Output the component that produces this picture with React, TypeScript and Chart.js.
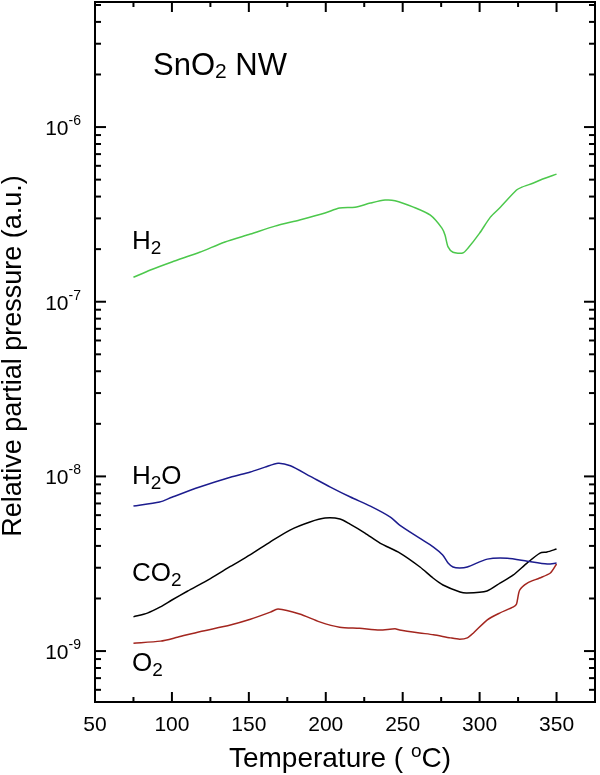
import React, { useEffect, useRef } from "react";
import { Chart, registerables } from "chart.js";

Chart.register(...registerables);

const FONT = '"Liberation Sans", Arial, Helvetica, sans-serif';

// ---- data ----
const h2Temp = [75, 86, 100, 118, 134.5, 151, 167, 183, 199.5, 209, 219, 229, 238.5, 245, 257, 268, 275.5, 277.5, 279.5, 282.7, 289, 292.5, 300, 307, 313, 324, 327.5, 335, 341, 350];
const h2Val = [1.38e-7, 1.52e-7, 1.69e-7, 1.92e-7, 2.2e-7, 2.44e-7, 2.71e-7, 2.94e-7, 3.22e-7, 3.44e-7, 3.48e-7, 3.67e-7, 3.82e-7, 3.79e-7, 3.48e-7, 3.13e-7, 2.64e-7, 2.41e-7, 2.06e-7, 1.92e-7, 1.9e-7, 2.03e-7, 2.47e-7, 3.05e-7, 3.44e-7, 4.36e-7, 4.53e-7, 4.78e-7, 5.04e-7, 5.38e-7];

const h2oTemp = [75, 92, 100, 118, 138, 151, 160.5, 169, 177, 190, 203, 216, 229, 242, 248, 261, 270, 276, 279.5, 282.7, 287, 292, 305, 318, 331, 344, 350];
const h2oVal = [6.76e-9, 7.13e-9, 7.6e-9, 8.7e-9, 9.9e-9, 1.06e-8, 1.13e-8, 1.19e-8, 1.15e-8, 1.0e-8, 8.69e-9, 7.62e-9, 6.76e-9, 5.85e-9, 5.26e-9, 4.43e-9, 3.94e-9, 3.55e-9, 3.19e-9, 3.03e-9, 2.99e-9, 3.03e-9, 3.36e-9, 3.4e-9, 3.27e-9, 3.15e-9, 3.19e-9];

const co2Temp = [75, 84, 92.5, 100, 110, 125, 138, 150.75, 163.75, 176.75, 189.75, 199.5, 209.25, 215.75, 225.5, 235.25, 248.25, 261.25, 269.7, 276.2, 287.25, 291.8, 304.8, 313.25, 321.7, 330.8, 339.25, 343.8, 350];
const co2Val = [1.57e-9, 1.65e-9, 1.79e-9, 1.96e-9, 2.2e-9, 2.6e-9, 3.05e-9, 3.55e-9, 4.21e-9, 4.93e-9, 5.48e-9, 5.77e-9, 5.7e-9, 5.33e-9, 4.74e-9, 4.15e-9, 3.64e-9, 3.03e-9, 2.62e-9, 2.39e-9, 2.18e-9, 2.15e-9, 2.21e-9, 2.45e-9, 2.72e-9, 3.19e-9, 3.64e-9, 3.69e-9, 3.84e-9];

const o2Temp = [75, 92.5, 103.6, 118, 138, 151, 164, 169, 183, 196, 209, 222, 235, 245, 248, 261, 270, 281, 287, 292, 296, 305, 313, 322, 324, 326, 331, 339, 346, 350];
const o2Val = [1.11e-9, 1.14e-9, 1.2e-9, 1.29e-9, 1.41e-9, 1.52e-9, 1.67e-9, 1.74e-9, 1.63e-9, 1.47e-9, 1.37e-9, 1.35e-9, 1.32e-9, 1.34e-9, 1.32e-9, 1.27e-9, 1.24e-9, 1.19e-9, 1.17e-9, 1.19e-9, 1.27e-9, 1.51e-9, 1.65e-9, 1.79e-9, 1.86e-9, 2.23e-9, 2.45e-9, 2.62e-9, 2.8e-9, 3.15e-9];

const xMajorTicks = [50, 100, 150, 200, 250, 300, 350];
const xMinorTicks = [75, 125, 175, 225, 275, 325];
const yDecades = [-9, -8, -7, -6];
const xMin = 50;
const xMax = 375;
const yMin = 5.11e-10;
const yMax = 5.2e-6;

type Run = { t: string; size: number; dy: number };

function drawRuns(ctx: CanvasRenderingContext2D, runs: Run[], x: number, y: number, align: "left" | "center" | "right") {
  let total = 0;
  const widths: number[] = [];
  for (const r of runs) {
    ctx.font = `${r.size}px ${FONT}`;
    const w = ctx.measureText(r.t).width;
    widths.push(w);
    total += w;
  }
  let cx = align === "left" ? x : align === "center" ? x - total / 2 : x - total;
  ctx.textAlign = "left";
  ctx.textBaseline = "alphabetic";
  runs.forEach((r, i) => {
    ctx.font = `${r.size}px ${FONT}`;
    ctx.fillText(r.t, cx, y + r.dy);
    cx += widths[i];
  });
}

const framePlugin = {
  id: "framePlugin",
  afterDraw(chart: any) {
    const ctx: CanvasRenderingContext2D = chart.ctx;
    const { left, right, top, bottom } = chart.chartArea;
    const xs = chart.scales.x;
    const ys = chart.scales.y;
    ctx.save();
    ctx.strokeStyle = "#000";
    ctx.fillStyle = "#000";
    ctx.lineWidth = 2;
    ctx.strokeRect(left, top, right - left, bottom - top);

    const seg = (x1: number, y1: number, x2: number, y2: number) => {
      ctx.beginPath();
      ctx.moveTo(x1, y1);
      ctx.lineTo(x2, y2);
      ctx.stroke();
    };

    for (const v of xMajorTicks) {
      const px = xs.getPixelForValue(v);
      seg(px, bottom, px, bottom - 10);
      seg(px, top, px, top + 10);
    }
    for (const v of xMinorTicks) {
      const px = xs.getPixelForValue(v);
      seg(px, bottom, px, bottom - 5);
      seg(px, top, px, top + 5);
    }
    for (let d = -10; d <= -6; d++) {
      for (let m = 1; m <= 9; m++) {
        const v = m * Math.pow(10, d);
        if (v < yMin || v > yMax) continue;
        const py = ys.getPixelForValue(v);
        const len = m === 1 ? 11 : 6;
        seg(left, py, left + len, py);
        seg(right, py, right - len, py);
      }
    }

    // tick labels
    ctx.fillStyle = "#000";
    for (const v of xMajorTicks) {
      const px = xs.getPixelForValue(v);
      drawRuns(ctx, [{ t: String(v), size: 21, dy: 0 }], px, 731, "center");
    }
    for (const d of yDecades) {
      const py = ys.getPixelForValue(Math.pow(10, d));
      drawRuns(
        ctx,
        [
          { t: "10", size: 21, dy: 0 },
          { t: "-" + Math.abs(d), size: 14, dy: -10 },
        ],
        81,
        py + 8,
        "right"
      );
    }

    // axis titles
    drawRuns(
      ctx,
      [
        { t: "Temperature ( ", size: 28, dy: 0 },
        { t: "o", size: 19, dy: -10 },
        { t: "C)", size: 28, dy: 0 },
      ],
      340,
      767,
      "center"
    );
    ctx.save();
    ctx.translate(21, 356);
    ctx.rotate(-Math.PI / 2);
    ctx.font = `27px ${FONT}`;
    ctx.textAlign = "center";
    ctx.textBaseline = "alphabetic";
    ctx.fillText("Relative partial pressure (a.u.)", 0, 0);
    ctx.restore();

    // annotations
    drawRuns(
      ctx,
      [
        { t: "SnO", size: 31, dy: 0 },
        { t: "2", size: 21, dy: 3 },
        { t: " NW", size: 31, dy: 0 },
      ],
      153,
      75,
      "left"
    );
    drawRuns(ctx, [{ t: "H", size: 26, dy: 0 }, { t: "2", size: 19, dy: 5 }], 132, 249, "left");
    drawRuns(ctx, [{ t: "H", size: 26, dy: 0 }, { t: "2", size: 19, dy: 5 }, { t: "O", size: 26, dy: 0 }], 132, 484, "left");
    drawRuns(ctx, [{ t: "CO", size: 26, dy: 0 }, { t: "2", size: 19, dy: 5 }], 132, 581, "left");
    drawRuns(ctx, [{ t: "O", size: 26, dy: 0 }, { t: "2", size: 19, dy: 5 }], 132, 671, "left");

    ctx.restore();
  },
};

function series(temps: number[], vals: number[]) {
  return temps.map((t, i) => ({ x: t, y: vals[i] }));
}

export default function App() {
  const canvasRef = useRef<HTMLCanvasElement | null>(null);

  useEffect(() => {
    const canvas = canvasRef.current;
    if (!canvas) return;
    const common = { pointRadius: 0, borderWidth: 1.5, tension: 0.25, fill: false };
    const chart = new Chart(canvas, {
      type: "line",
      data: {
        datasets: [
          { label: "H2", data: series(h2Temp, h2Val), borderColor: "#4cc84c", ...common },
          { label: "H2O", data: series(h2oTemp, h2oVal), borderColor: "#1c1c8e", ...common },
          { label: "CO2", data: series(co2Temp, co2Val), borderColor: "#000000", ...common },
          { label: "O2", data: series(o2Temp, o2Val), borderColor: "#a3261f", ...common },
        ],
      },
      options: {
        responsive: false,
        animation: false,
        events: [],
        layout: { padding: { left: 95, right: 5, top: 2, bottom: 73 } },
        plugins: { legend: { display: false }, tooltip: { enabled: false } },
        scales: {
          x: { type: "linear", min: xMin, max: xMax, display: false },
          y: { type: "logarithmic", min: yMin, max: yMax, display: false },
        },
      },
      plugins: [framePlugin],
    });
    return () => chart.destroy();
  }, []);

  return (
    <div style={{ position: "absolute", left: 0, top: 0, width: 600, height: 775, background: "#fff" }}>
      <canvas ref={canvasRef} width={600} height={775} style={{ display: "block" }} />
    </div>
  );
}
